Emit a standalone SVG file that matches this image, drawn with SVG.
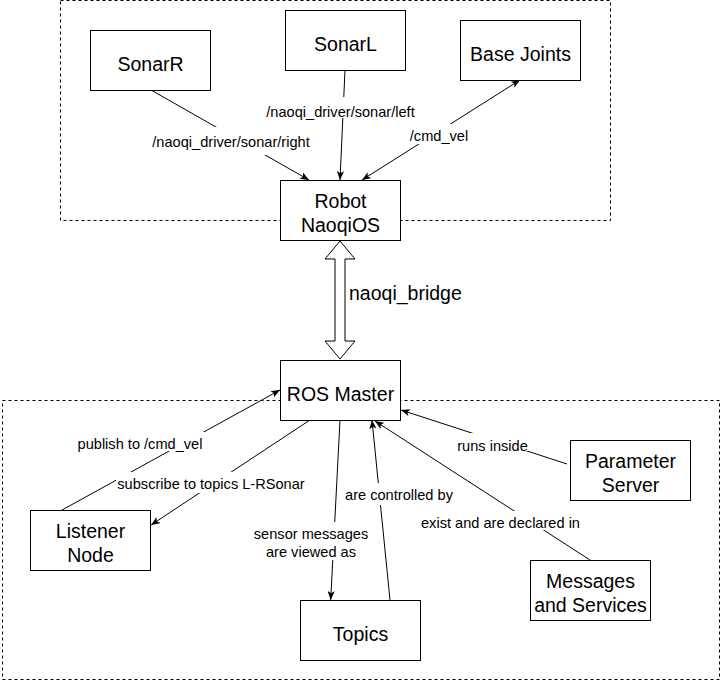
<svg xmlns="http://www.w3.org/2000/svg" width="722" height="682" viewBox="0 0 722 682">
<style>
.grp{fill:none;stroke:#000;stroke-width:1;stroke-dasharray:3 3}
.node rect{fill:#fff;stroke:#000;stroke-width:1}
.nt{font-family:"Liberation Sans",Arial,sans-serif;font-size:19.5px;fill:#000;text-anchor:middle}
.lt{font-family:"Liberation Sans",Arial,sans-serif;font-size:14.6px;fill:#000;text-anchor:middle}
.edge{fill:none;stroke:#000;stroke-width:1}
.bg{fill:#fff;stroke:none}
</style>
<defs>
<marker id="arr" viewBox="0 0 10 8" markerUnits="userSpaceOnUse" markerWidth="9" markerHeight="7.2" refX="10" refY="4" orient="auto-start-reverse">
<path d="M0,0 L10,4 L0,8 L2.5,4 z" fill="#000"/>
</marker>
</defs>
<rect width="722" height="682" fill="#fff"/>
<g id="groups">
<rect class="grp" x="60.5" y="0.5" width="550" height="220"/>
<rect class="grp" x="2.5" y="400.5" width="717" height="279"/>
</g>
<g id="connectors">
<path class="edge" d="M151,90 L309,180" marker-end="url(#arr)"/>
<path class="edge" d="M345,70 L340,180" marker-end="url(#arr)"/>
<path class="edge" d="M362,180 L520,80" marker-start="url(#arr)" marker-end="url(#arr)"/>
<path class="edge" d="M62,510 L280,390" marker-end="url(#arr)"/>
<path class="edge" d="M310,420 L151,525" marker-end="url(#arr)"/>
<path class="edge" d="M340,420 L330.7,600" marker-end="url(#arr)"/>
<path class="edge" d="M390,600 L372,420" marker-end="url(#arr)"/>
<path class="edge" d="M567,464 L401,410" marker-end="url(#arr)"/>
<path class="edge" d="M590,560 L375,421" marker-end="url(#arr)"/>
<polygon id="naoqi_bridge" points="340,241 355,259 345,259 345,341 355,341 340,359 325,341 335,341 335,259 325,259" fill="#fff" stroke="#000" stroke-width="1"/>
<g id="labels">
<rect class="bg" x="151" y="127" width="161" height="28"/>
<text class="lt" x="231" y="147">/naoqi_driver/sonar/right</text>
<rect class="bg" x="266" y="97" width="150" height="21"/>
<text class="lt" x="340.5" y="117">/naoqi_driver/sonar/left</text>
<rect class="bg" x="407" y="124" width="64" height="20"/>
<text class="lt" x="439" y="140.5">/cmd_vel</text>
<text class="nt" x="349" y="300" style="text-anchor:start">naoqi_bridge</text>
<rect class="bg" x="76" y="432" width="128" height="19"/>
<text class="lt" x="140" y="448.5">publish to /cmd_vel</text>
<rect class="bg" x="116" y="472" width="190" height="21"/>
<text class="lt" x="211" y="489">subscribe to topics L-RSonar</text>
<rect class="bg" x="250" y="522" width="121" height="38"/>
<text class="lt" x="311" y="539">sensor messages</text>
<text class="lt" x="311" y="557">are viewed as</text>
<rect class="bg" x="344" y="483" width="110" height="22"/>
<text class="lt" x="399" y="499.5">are controlled by</text>
<rect class="bg" x="456" y="433" width="73" height="18"/>
<text class="lt" x="492.5" y="450.5">runs inside</text>
<rect class="bg" x="419" y="511" width="163" height="19"/>
<text class="lt" x="500.5" y="527.5">exist and are declared in</text>
</g>
</g>
<g id="SonarR" class="node"><rect x="90.5" y="30.5" width="120" height="60"/><text class="nt" x="150.5" y="70.5">SonarR</text></g>
<g id="SonarL" class="node"><rect x="285.5" y="10.5" width="120" height="60"/><text class="nt" x="345.5" y="50.5">SonarL</text></g>
<g id="BaseJoints" class="node"><rect x="460.5" y="20.5" width="120" height="60"/><text class="nt" x="520.5" y="60.5">Base Joints</text></g>
<g id="Robot" class="node"><rect x="280.5" y="180.5" width="120" height="60"/><text class="nt" x="340.5" y="208">Robot</text><text class="nt" x="340.5" y="232">NaoqiOS</text></g>
<g id="ROSMaster" class="node"><rect x="280.5" y="360.5" width="120" height="60"/><text class="nt" x="340.5" y="400.5">ROS Master</text></g>
<g id="Listener" class="node"><rect x="30.5" y="510.5" width="120" height="60"/><text class="nt" x="90.5" y="538">Listener</text><text class="nt" x="90.5" y="562">Node</text></g>
<g id="Topics" class="node"><rect x="300.5" y="600.5" width="120" height="60"/><text class="nt" x="360.5" y="640.5">Topics</text></g>
<g id="ParameterServer" class="node"><rect x="570.5" y="440.5" width="120" height="60"/><text class="nt" x="630.5" y="468">Parameter</text><text class="nt" x="630.5" y="492">Server</text></g>
<g id="Messages" class="node"><rect x="530.5" y="560.5" width="120" height="60"/><text class="nt" x="590.5" y="588">Messages</text><text class="nt" x="590.5" y="612">and Services</text></g>
</svg>
